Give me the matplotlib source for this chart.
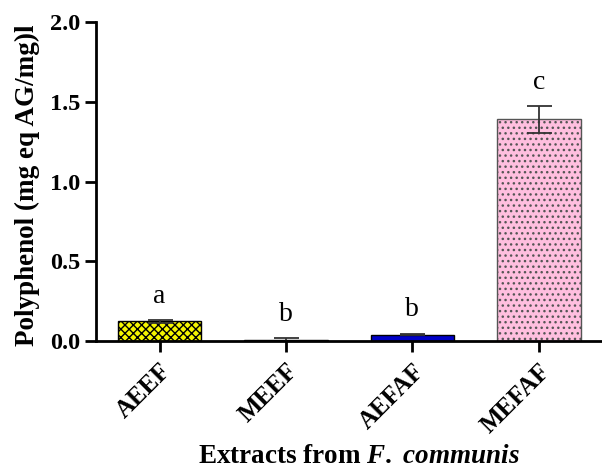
import matplotlib.pyplot as plt

plt.rcParams['font.family'] = 'Liberation Serif'
plt.rcParams['mathtext.fontset'] = 'custom'
plt.rcParams['mathtext.it'] = 'Liberation Serif:italic:bold'
plt.rcParams['mathtext.rm'] = 'Liberation Serif:bold'
plt.rcParams['hatch.linewidth'] = 1.0

extracts = ['AEEF', 'MEEF', 'AEFAF', 'MEFAF']
polyphenol = [0.125, 0.008, 0.042, 1.39]
sd = [0.008, 0.010, 0.006, 0.085]
letters = ['a', 'b', 'b', 'c']

colors = ['#f5f500', '#ffffff', '#0000c8', '#ffbfdf']
edges = ['black', 'black', 'black', '#555555']
hatches = ['xxxx', None, None, '...']

fig = plt.figure(figsize=(6.02, 4.7), dpi=100)
ax = fig.add_axes([0.16, 0.274, 0.84, 0.679])

x = range(len(extracts))
for i in x:
    ax.bar(i, polyphenol[i], width=0.66, color=colors[i], edgecolor=edges[i],
           hatch=hatches[i], linewidth=1.0)
    ax.errorbar(i, polyphenol[i], yerr=sd[i], fmt='none', ecolor='#333333',
                elinewidth=1.3, capsize=9, capthick=1.3)
    ax.text(i, polyphenol[i] + sd[i] + 0.07, letters[i], ha='center', va='bottom',
            fontsize=20)

ax.set_xlim(-0.5, 3.5)
ax.set_ylim(0, 2.0)
ax.set_yticks([0, 0.5, 1.0, 1.5, 2.0])
ax.set_yticklabels(['0.0', '0.5', '1.0', '1.5', '2.0'], fontsize=17.5, fontweight='bold')
ax.set_xticks(list(x))
ax.set_xticklabels(extracts, rotation=45, ha='right', va='top', rotation_mode='anchor',
                   fontsize=18, fontweight='bold')

ax.spines['top'].set_visible(False)
ax.spines['right'].set_visible(False)
ax.spines['left'].set_linewidth(2)
ax.spines['bottom'].set_linewidth(2)
ax.tick_params(width=2, length=8, direction='out')
ax.tick_params(axis='x', pad=5)

ax.set_ylabel('Polyphenol (mg eq AG/mg)l', fontsize=19.5, fontweight='bold')
ax.yaxis.set_label_coords(-0.112, 0.49)
ax.set_xlabel(r'Extracts from $\mathit{F.}$ $\mathit{communis}$', fontsize=19.5,
              fontweight='bold')
ax.xaxis.set_label_coords(0.52, -0.322)

fig.savefig('out.png', dpi=100)
